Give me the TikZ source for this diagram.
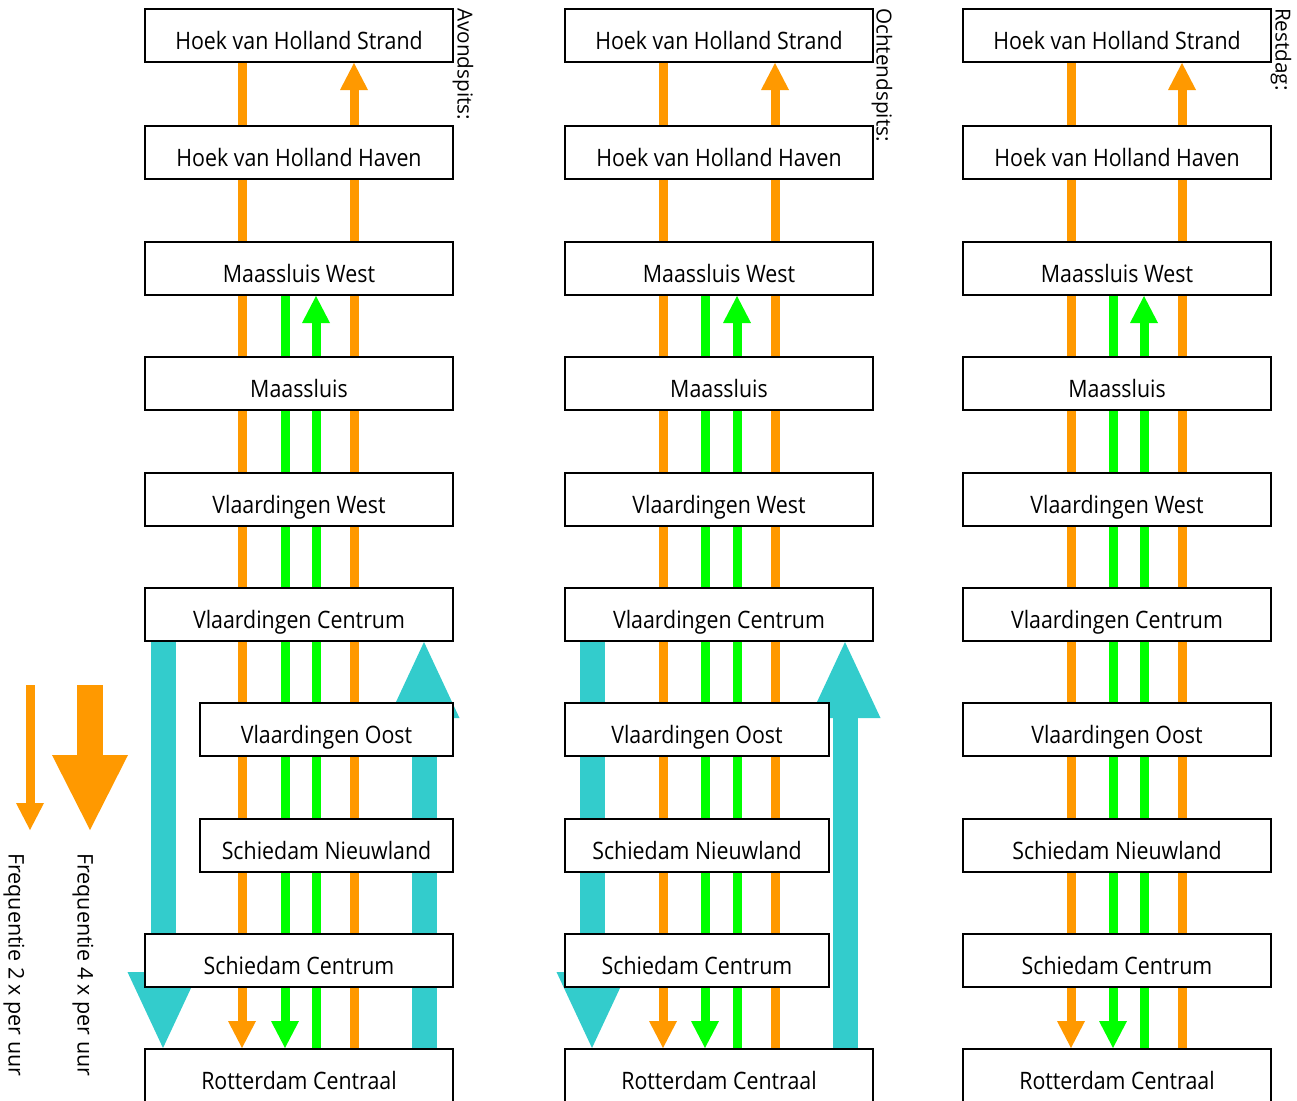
\documentclass[tikz,border=0pt]{standalone}
\usepackage{fontspec}
\setmainfont{Open Sans}
\usetikzlibrary{arrows.meta}
\pgfdeclarelayer{background}
\pgfsetlayers{background,main}
\definecolor{ora}{RGB}{255,153,0}
\definecolor{grn}{RGB}{0,255,0}
\definecolor{cya}{RGB}{51,204,204}
\newcommand{\lbl}[1]{\scalebox{0.89}[1]{#1}}
\tikzset{
  stationbox/.style={draw=black, line width=2pt, fill=white, inner sep=0pt,
    minimum height=53pt, minimum width=308pt, anchor=north west,
    text height=28pt, text depth=0pt, font=\fontsize{24}{28}\selectfont},
  narrowA/.style={stationbox, minimum width=253pt},
  narrowB/.style={stationbox, minimum width=264pt},
  thinarr/.style={line width=9pt, -{Triangle[length=27pt,width=28pt,line width=0pt]}},
  oline/.style={thinarr, draw=ora, fill=ora},
  gline/.style={thinarr, draw=grn, fill=grn},
  cyanarr/.style={line width=25pt, draw=cya, fill=cya, -{Triangle[length=76pt,width=71pt,line width=0pt]}},
  bigarr/.style={line width=26pt, draw=ora, fill=ora, -{Triangle[length=75pt,width=76pt,line width=0pt]}},
  vtitle/.style={rotate=-90, anchor=west, inner sep=0pt, font=\fontsize{20.7}{24}\selectfont},
  vlegend/.style={rotate=-90, anchor=west, inner sep=0pt, font=\fontsize{21.5}{25}\selectfont},
}
\begin{document}
\begin{tikzpicture}[x=1pt,y=-1pt]
\useasboundingbox (0,0) rectangle (1297,1100);
% column 1
\node[stationbox] (HS1) at (144,8) {\lbl{Hoek van Holland Strand}};
\node[stationbox] (HH1) at (144,125) {\lbl{Hoek van Holland Haven}};
\node[stationbox] (MW1) at (144,241) {\lbl{Maassluis West}};
\node[stationbox] (MS1) at (144,356) {\lbl{Maassluis}};
\node[stationbox] (VW1) at (144,472) {\lbl{Vlaardingen West}};
\node[stationbox] (VC1) at (144,587) {\lbl{Vlaardingen Centrum}};
\node[narrowA] (VO1) at (199,702) {\lbl{Vlaardingen Oost}};
\node[narrowA] (SN1) at (199,818) {\lbl{Schiedam Nieuwland}};
\node[stationbox] (SC1) at (144,933) {\lbl{Schiedam Centrum}};
\node[stationbox] (RC1) at (144,1048) {\lbl{Rotterdam Centraal}};
% column 2
\node[stationbox] (HS2) at (564,8) {\lbl{Hoek van Holland Strand}};
\node[stationbox] (HH2) at (564,125) {\lbl{Hoek van Holland Haven}};
\node[stationbox] (MW2) at (564,241) {\lbl{Maassluis West}};
\node[stationbox] (MS2) at (564,356) {\lbl{Maassluis}};
\node[stationbox] (VW2) at (564,472) {\lbl{Vlaardingen West}};
\node[stationbox] (VC2) at (564,587) {\lbl{Vlaardingen Centrum}};
\node[narrowB] (VO2) at (564,702) {\lbl{Vlaardingen Oost}};
\node[narrowB] (SN2) at (564,818) {\lbl{Schiedam Nieuwland}};
\node[narrowB] (SC2) at (564,933) {\lbl{Schiedam Centrum}};
\node[stationbox] (RC2) at (564,1048) {\lbl{Rotterdam Centraal}};
% column 3
\node[stationbox] (HS3) at (962,8) {\lbl{Hoek van Holland Strand}};
\node[stationbox] (HH3) at (962,125) {\lbl{Hoek van Holland Haven}};
\node[stationbox] (MW3) at (962,241) {\lbl{Maassluis West}};
\node[stationbox] (MS3) at (962,356) {\lbl{Maassluis}};
\node[stationbox] (VW3) at (962,472) {\lbl{Vlaardingen West}};
\node[stationbox] (VC3) at (962,587) {\lbl{Vlaardingen Centrum}};
\node[stationbox] (VO3) at (962,702) {\lbl{Vlaardingen Oost}};
\node[stationbox] (SN3) at (962,818) {\lbl{Schiedam Nieuwland}};
\node[stationbox] (SC3) at (962,933) {\lbl{Schiedam Centrum}};
\node[stationbox] (RC3) at (962,1048) {\lbl{Rotterdam Centraal}};
% titles
\node[vtitle] (T1) at (463,8) {Avondspits:};
\node[vtitle] (T2) at (882,8) {Ochtendspits:};
\node[vtitle] (T3) at (1281,8) {Restdag:};
% legend
\coordinate (L1a) at (30,685);
\coordinate (L1b) at (30,830);
\coordinate (L2a) at (90,685);
\coordinate (L2b) at (90,830);
\node[vlegend] (F2) at (14,853) {Frequentie 2 x per uur};
\node[vlegend] (F4) at (83,853) {Frequentie 4 x per uur};
\begin{pgfonlayer}{background}
\draw[oline] (L1a) -- (L1b);
\draw[bigarr] (L2a) -- (L2b);
% column 1 lines
\draw[oline] (HS1.south -| 242,0) -- (RC1.north -| 242,0);
\draw[oline] (RC1.north -| 354,0) -- (HS1.south -| 354,0);
\draw[gline] (MW1.south -| 285,0) -- (RC1.north -| 285,0);
\draw[gline] (RC1.north -| 316,0) -- (MW1.south -| 316,0);
\draw[cyanarr] (VC1.south -| 163,0) -- (RC1.north -| 163,0);
\draw[cyanarr] (RC1.north -| 424,0) -- (VC1.south -| 424,0);
% column 2 lines
\draw[oline] (HS2.south -| 663,0) -- (RC2.north -| 663,0);
\draw[oline] (RC2.north -| 775,0) -- (HS2.south -| 775,0);
\draw[gline] (MW2.south -| 705,0) -- (RC2.north -| 705,0);
\draw[gline] (RC2.north -| 737,0) -- (MW2.south -| 737,0);
\draw[cyanarr] (VC2.south -| 592,0) -- (RC2.north -| 592,0);
\draw[cyanarr] (RC2.north -| 845,0) -- (VC2.south -| 845,0);
% column 3 lines
\draw[oline] (HS3.south -| 1071,0) -- (RC3.north -| 1071,0);
\draw[oline] (RC3.north -| 1182,0) -- (HS3.south -| 1182,0);
\draw[gline] (MW3.south -| 1113,0) -- (RC3.north -| 1113,0);
\draw[gline] (RC3.north -| 1144,0) -- (MW3.south -| 1144,0);
\end{pgfonlayer}
\end{tikzpicture}
\end{document}
